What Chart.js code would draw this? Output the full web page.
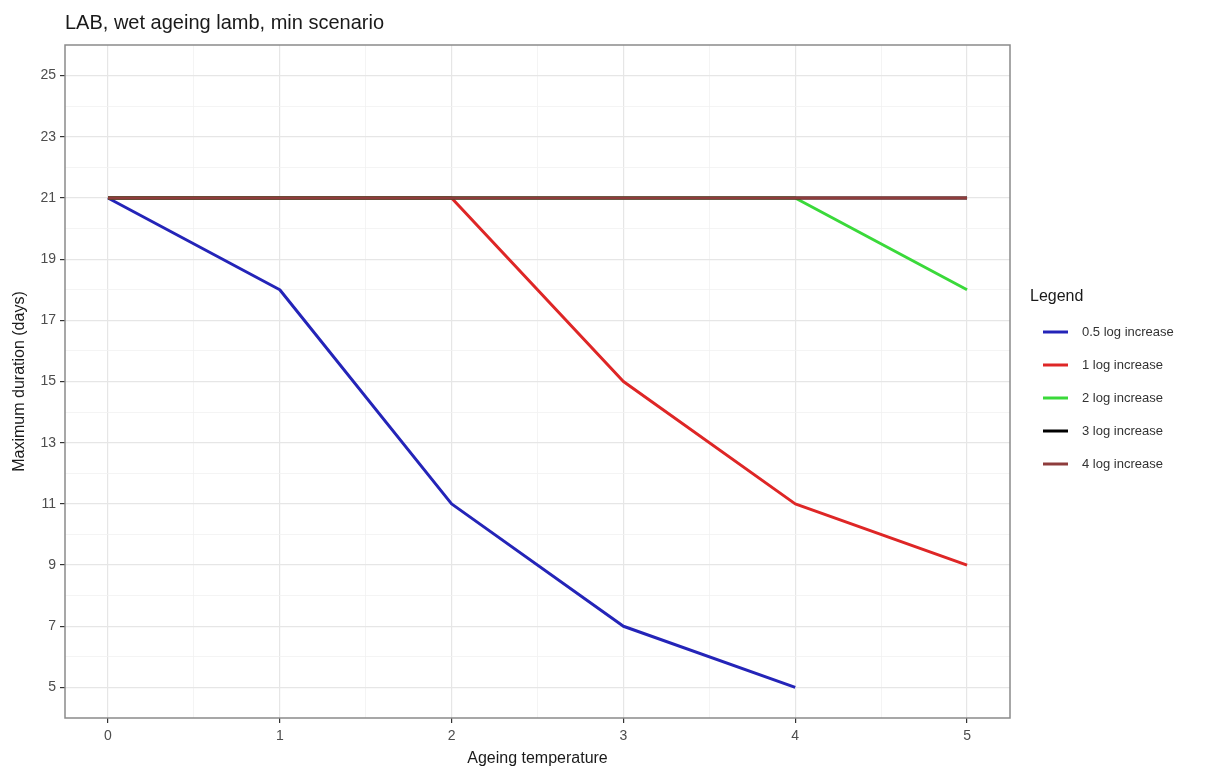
<!DOCTYPE html>
<html>
<head>
<meta charset="utf-8">
<title>LAB, wet ageing lamb, min scenario</title>
<script src="https://cdn.jsdelivr.net/npm/chart.js@4"></script>
<style>
  html, body { margin: 0; padding: 0; background: #fff; }
  #wrap { width: 1209px; height: 769px; position: relative; }
</style>
</head>
<body>
<div id="wrap"><canvas id="chart"></canvas></div>
<script>
// Données
const chartTitle = 'LAB, wet ageing lamb, min scenario';
const temperatures = [0, 1, 2, 3, 4, 5];
const seriesLabels = ['0.5 log increase', '1 log increase', '2 log increase', '3 log increase', '4 log increase'];
const halfLog = [21, 18, 11, 7, 5];
const oneLog = [21, 21, 21, 15, 11, 9];
const twoLog = [21, 21, 21, 21, 21, 18];
const threeLog = [21, 21, 21, 21, 21, 21];
const fourLog = [21, 21, 21, 21, 21, 21];
const seriesColors = ['#2424b8', '#de2626', '#3ad93a', '#000000', '#8e3c3c'];
const xTickLabels = [0, 1, 2, 3, 4, 5];
const yTickLabels = [5, 7, 9, 11, 13, 15, 17, 19, 21, 23, 25];

const allSeries = [halfLog, oneLog, twoLog, threeLog, fourLog];

// Construire les jeux de données
const datasets = allSeries.map((values, i) => ({
    label: seriesLabels[i],
    data: values.map((v, k) => ({ x: temperatures[k], y: v })),
    borderColor: seriesColors[i],
    backgroundColor: seriesColors[i],
    borderWidth: 3,
    pointRadius: 0,
    tension: 0,
    fill: false,
    borderJoinStyle: 'round',
    order: allSeries.length - i   // les derniers groupes dessinés au-dessus
}));

// Graduations mineures à mi-chemin entre les majeures
const xGrid = [];
xTickLabels.forEach((t, i) => {
    xGrid.push(t);
    if (i < xTickLabels.length - 1) xGrid.push((t + xTickLabels[i + 1]) / 2);
});
const yGrid = [];
yTickLabels.forEach((t, i) => {
    yGrid.push(t);
    if (i < yTickLabels.length - 1) yGrid.push((t + yTickLabels[i + 1]) / 2);
});

const isMajor = (list, v) => list.some(t => Math.abs(t - v) < 1e-9);

// Titre, cadre et légende dessinés à la main
const decorPlugin = {
    id: 'decor',
    afterDatasetsDraw(chart) {
        const { ctx, chartArea } = chart;
        ctx.save();
        ctx.strokeStyle = '#8a8a8a';
        ctx.lineWidth = 1.5;
        ctx.strokeRect(chartArea.left, chartArea.top, chartArea.right - chartArea.left, chartArea.bottom - chartArea.top);
        ctx.restore();
    },
    afterDraw(chart) {
        const { ctx, chartArea } = chart;
        ctx.save();
        ctx.fillStyle = '#1a1a1a';
        ctx.font = '20px "Liberation Sans", Arial, sans-serif';
        ctx.textBaseline = 'alphabetic';
        ctx.textAlign = 'left';
        ctx.fillText(chartTitle, chartArea.left, 29);

        // Légende
        const lx = 1030;
        ctx.font = '16px "Liberation Sans", Arial, sans-serif';
        ctx.fillStyle = '#1a1a1a';
        ctx.textBaseline = 'middle';
        ctx.fillText('Legend', lx, 297);
        ctx.font = '13px "Liberation Sans", Arial, sans-serif';
        seriesLabels.forEach((lab, i) => {
            const y = 332 + i * 33;
            ctx.strokeStyle = seriesColors[i];
            ctx.lineWidth = 3;
            ctx.beginPath();
            ctx.moveTo(1043, y);
            ctx.lineTo(1068, y);
            ctx.stroke();
            ctx.fillStyle = '#333';
            ctx.fillText(lab, 1082, y);
        });
        ctx.restore();
    }
};

const ctx = document.getElementById('chart').getContext('2d');
new Chart(ctx, {
    type: 'line',
    data: { datasets: datasets },
    plugins: [decorPlugin],
    options: {
        responsive: true,
        maintainAspectRatio: false,
        animation: false,
        layout: { padding: { top: 45, right: 199, left: 0, bottom: 0 } },
        plugins: {
            legend: { display: false },
            tooltip: { enabled: false },
            title: { display: false }
        },
        scales: {
            x: {
                type: 'linear',
                min: -0.25,
                max: 5.25,
                afterBuildTicks: scale => { scale.ticks = xGrid.map(v => ({ value: v })); },
                afterFit: scale => { scale.height = 51; },
                ticks: {
                    autoSkip: false,
                    maxRotation: 0,
                    padding: 5,
                    color: '#4d4d4d',
                    font: { family: '"Liberation Sans", Arial, sans-serif', size: 14 },
                    callback: v => isMajor(xTickLabels, v) ? String(v) : ''
                },
                grid: {
                    color: c => isMajor(xTickLabels, c.tick.value) ? '#e6e6e6' : '#f1f1f1',
                    lineWidth: c => isMajor(xTickLabels, c.tick.value) ? 1.2 : 0.8,
                    tickColor: c => isMajor(xTickLabels, c.tick.value) ? '#333333' : 'rgba(0,0,0,0)',
                    tickLength: 5
                },
                border: { display: false },
                title: {
                    display: true,
                    text: 'Ageing temperature',
                    color: '#1a1a1a',
                    font: { family: '"Liberation Sans", Arial, sans-serif', size: 16 },
                    padding: { top: 0, bottom: 1 }
                }
            },
            y: {
                type: 'linear',
                min: 4,
                max: 26,
                afterBuildTicks: scale => { scale.ticks = yGrid.map(v => ({ value: v })); },
                afterFit: scale => { scale.width = 65; },
                ticks: {
                    autoSkip: false,
                    padding: 4,
                    color: '#4d4d4d',
                    font: { family: '"Liberation Sans", Arial, sans-serif', size: 14 },
                    callback: v => isMajor(yTickLabels, v) ? String(v) : ''
                },
                grid: {
                    color: c => isMajor(yTickLabels, c.tick.value) ? '#e6e6e6' : '#f1f1f1',
                    lineWidth: c => isMajor(yTickLabels, c.tick.value) ? 1.2 : 0.8,
                    tickColor: c => isMajor(yTickLabels, c.tick.value) ? '#333333' : 'rgba(0,0,0,0)',
                    tickLength: 5
                },
                border: { display: false },
                title: {
                    display: true,
                    text: 'Maximum duration (days)',
                    color: '#1a1a1a',
                    font: { family: '"Liberation Sans", Arial, sans-serif', size: 16 },
                    padding: { top: 10, bottom: 0 }
                }
            }
        }
    }
});
</script>
</body>
</html>
